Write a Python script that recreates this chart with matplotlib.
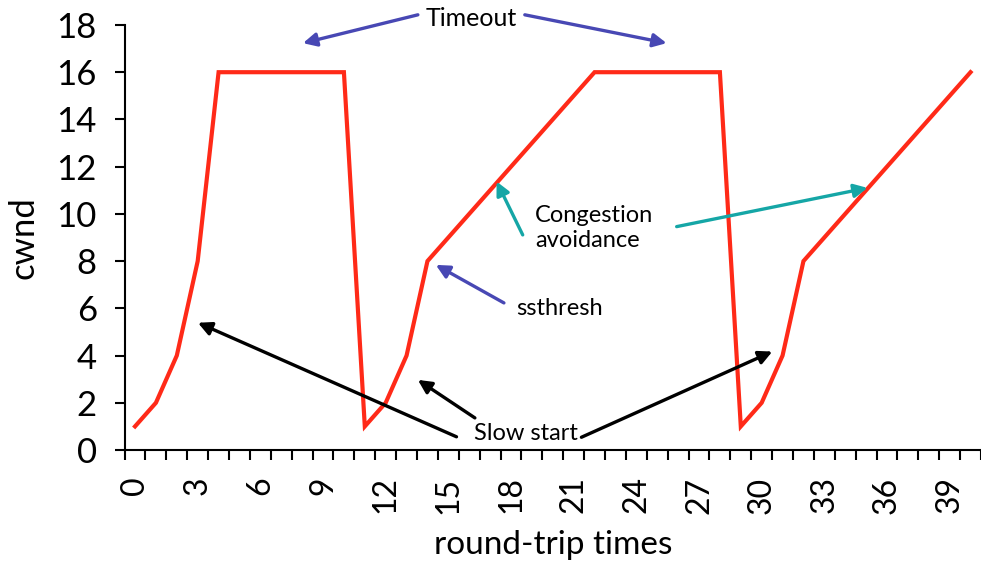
import matplotlib
matplotlib.use("Agg")
import matplotlib.pyplot as plt

# TCP cwnd over round-trip times: slow start, congestion avoidance, timeouts
RTT = list(range(41))
CWND = [1, 2, 4, 8, 16, 16, 16, 16, 16, 16, 16,
        1, 2, 4, 8, 9, 10, 11, 12, 13, 14, 15, 16, 16, 16, 16, 16, 16, 16,
        1, 2, 4, 8, 9, 10, 11, 12, 13, 14, 15, 16]
XTICKS = list(range(0, 40, 3))
YTICKS = list(range(0, 19, 2))

RED = "#FF2A18"
BLUE = "#4848B4"
TEAL = "#15A6A6"
FONT = "Lato"
NOTE = 17

plt.rcParams["font.family"] = [FONT, "DejaVu Sans"]

fig = plt.figure(figsize=(9.81, 5.74), dpi=100)
ax = fig.add_axes([0.127, 0.216, 0.873, 0.7405])

ax.plot(RTT, CWND, color=RED, lw=3, solid_joinstyle="miter", zorder=3)

ax.set_xlim(-0.5, 40.5)
ax.set_ylim(0, 18)
ax.set_yticks(YTICKS)
ax.set_xticks(XTICKS)
ax.set_xticklabels([str(t) for t in XTICKS], rotation=90)
ax.set_xticks([i - 0.5 for i in range(42)], minor=True)
ax.tick_params(axis="x", which="major", length=0, pad=19, labelsize=23)
ax.tick_params(axis="x", which="minor", length=7, width=1.5, direction="out")
ax.tick_params(axis="y", length=7, width=1.5, direction="out", pad=13, labelsize=25)

for side in ("top", "right"):
    ax.spines[side].set_visible(False)
for side in ("left", "bottom"):
    ax.spines[side].set_linewidth(1.5)

ax.set_ylabel("cwnd", fontsize=25, labelpad=12)
ax.set_xlabel("round-trip times", fontsize=24, labelpad=12)


def arrow(tip, tail, color):
    ax.annotate("", xy=tip, xytext=tail, annotation_clip=False,
                arrowprops=dict(arrowstyle="-|>", color=color, lw=2.4,
                                mutation_scale=20, shrinkA=0, shrinkB=0),
                zorder=4)


# timeout
arrow((8.04, 17.23), (13.54, 18.43), BLUE)
arrow((25.45, 17.23), (18.66, 18.43), BLUE)
ax.text(16.12, 18.28, "Timeout", ha="center", va="center", fontsize=18,
        clip_on=False)

# ssthresh
arrow((14.40, 7.84), (17.66, 6.23), BLUE)
ax.text(18.23, 6.0, "ssthresh", ha="left", va="center", fontsize=NOTE)

# congestion avoidance
arrow((17.31, 11.37), (18.56, 9.11), TEAL)
arrow((35.07, 11.10), (25.93, 9.46), TEAL)
ax.text(19.14, 9.4, "Congestion\navoidance", ha="left", va="center",
        fontsize=NOTE, linespacing=1.2)

# slow start
arrow((3.01, 5.39), (15.39, 0.56), "black")
arrow((13.54, 2.97), (16.27, 1.36), "black")
arrow((30.51, 4.17), (21.37, 0.54), "black")
ax.text(16.22, 0.72, "Slow start", ha="left", va="center", fontsize=NOTE)

fig.savefig("out.png", dpi=100)
